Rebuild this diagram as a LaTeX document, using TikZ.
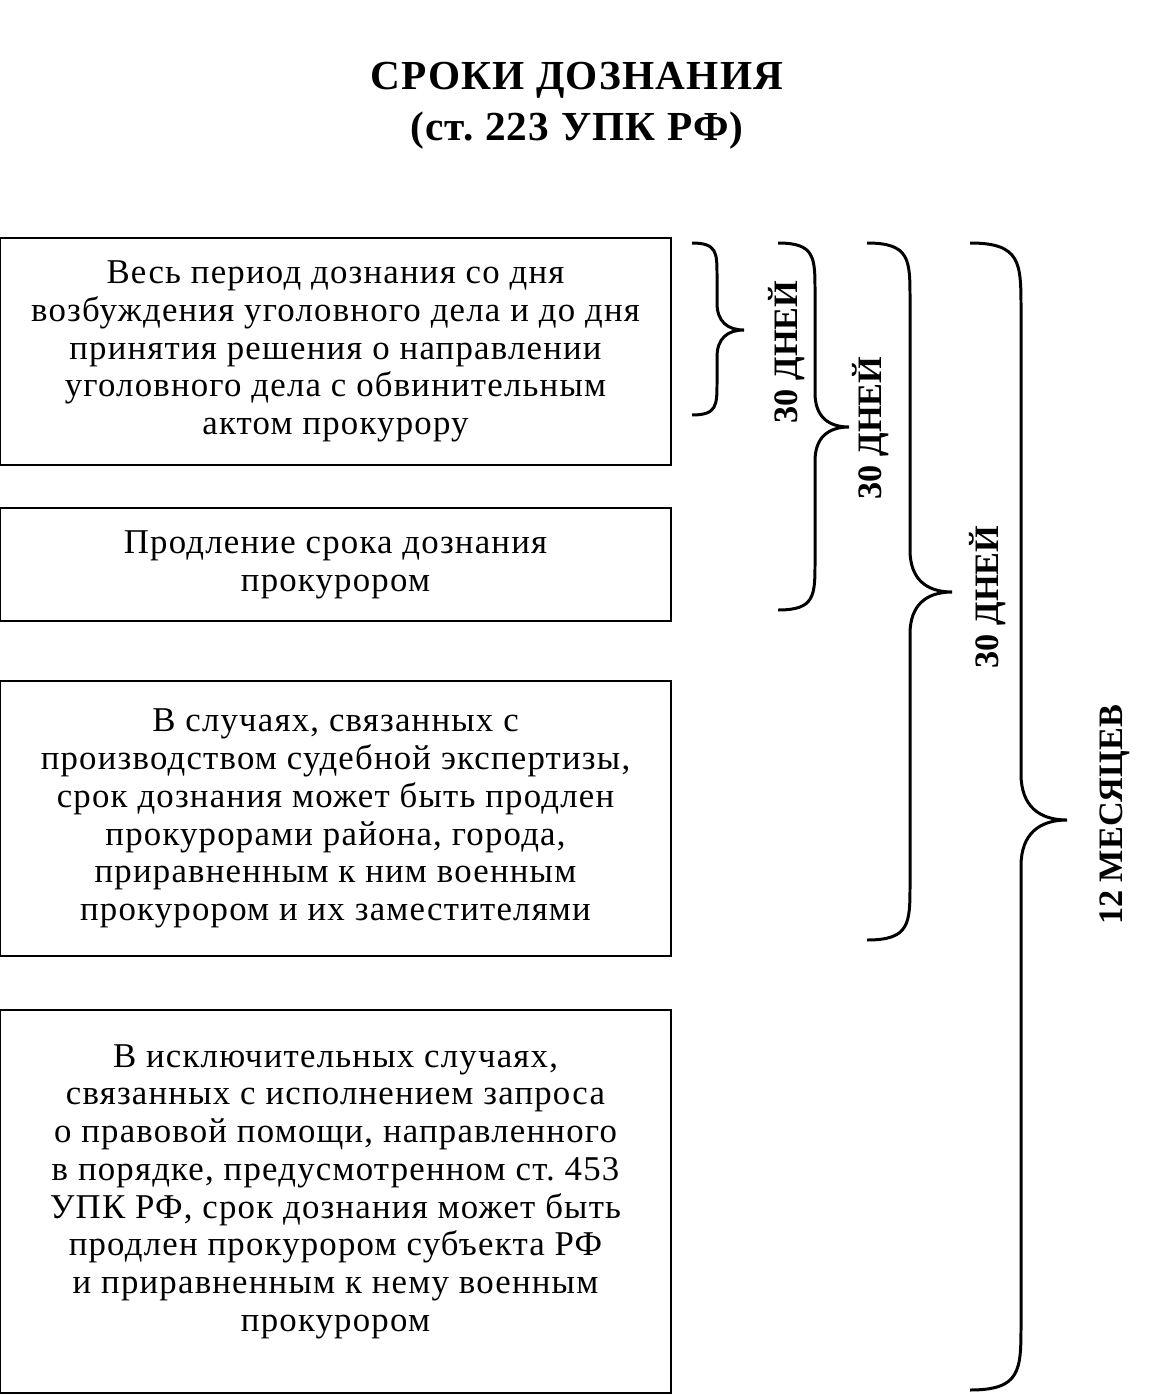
\documentclass[tikz,border=0pt]{standalone}
\usepackage{fontspec}
\setmainfont{Liberation Serif}
\newfontfamily\boxfont{Liberation Serif}[LetterSpace=3.5]
\newfontfamily\headfont{Liberation Serif}[LetterSpace=3]
\frenchspacing

% curly brace: left end x, spine x, tip x, top y, tip y, bottom y
\newcommand{\periodbrace}[6]{%
  \pgfmathsetmacro{\endh}{1.3*(#2-#1)}%
  \pgfmathsetmacro{\midh}{1.0*(#3-#2)}%
  \draw[periodline] (#1,#4) .. controls (#2,#4) and (#2,#4+0.3*\endh) .. (#2,#4+\endh)
    -- (#2,#5-\midh) .. controls (#2,#5-0.3*\midh) and (#2+0.4*\midh,#5) .. (#3,#5)
    .. controls (#2+0.4*\midh,#5) and (#2,#5+0.3*\midh) .. (#2,#5+\midh)
    -- (#2,#6-\endh) .. controls (#2,#6-0.3*\endh) and (#2,#6) .. (#1,#6);}

\tikzset{
  termbox/.style={draw, line width=1.1pt, inner sep=0pt, align=center,
    minimum width=13.42cm, font=\boxfont\fontsize{19.8}{21.5}\selectfont},
  termlabel/.style={rotate=90, inner sep=0pt,
    font=\bfseries\fontsize{19.5}{23}\selectfont},
  periodline/.style={line width=1.7pt}
}

\begin{document}
\begin{tikzpicture}[x=0.02cm, y=-0.02cm]
  \useasboundingbox (0,0) rectangle (1158,1396);

  % heading
  \node[align=center, font=\headfont\bfseries\fontsize{23.5}{29}\selectfont] (title) at (577,106)
    {СРОКИ ДОЗНАНИЯ\\(ст. 223 УПК РФ)};

  % boxes
  \node[termbox, minimum height=4.54cm] (fullterm) at (335.5,351.5)
    {Весь период дознания со дня\\возбуждения уголовного дела и до дня\\принятия решения о направлении\\уголовного дела с обвинительным\\актом прокурору};
  \node[termbox, minimum height=2.26cm] (prolong) at (335.5,564.5)
    {Продление срока дознания\\прокурором};
  \node[termbox, minimum height=5.5cm] (expertise) at (335.5,818.5)
    {В случаях, связанных с\\производством судебной экспертизы,\\срок дознания может быть продлен\\прокурорами района, города,\\приравненным к ним военным\\прокурором и их заместителями};
  \node[termbox, minimum height=7.66cm] (exceptional) at (335.5,1201.5)
    {В исключительных случаях,\\связанных с исполнением запроса\\о правовой помощи, направленного\\в порядке, предусмотренном ст. 453\\УПК РФ, срок дознания может быть\\продлен прокурором субъекта РФ\\и приравненным к нему военным\\прокурором\\[-6pt]};

  % braces
  \periodbrace{692}{717}{744}{243}{330}{415}
  \periodbrace{778}{815}{849}{243}{427}{610}
  \periodbrace{867}{910}{952}{243}{592}{940}
  \periodbrace{970}{1021}{1067}{243}{820}{1390}

  \node[termlabel] (daysa) at (787,352) {30 ДНЕЙ};
  \node[termlabel] (daysb) at (871,428) {30 ДНЕЙ};
  \node[termlabel] (daysc) at (988,597) {30 ДНЕЙ};
  \node[termlabel] (months) at (1115,815) {12 МЕСЯЦЕВ};
\end{tikzpicture}
\end{document}
